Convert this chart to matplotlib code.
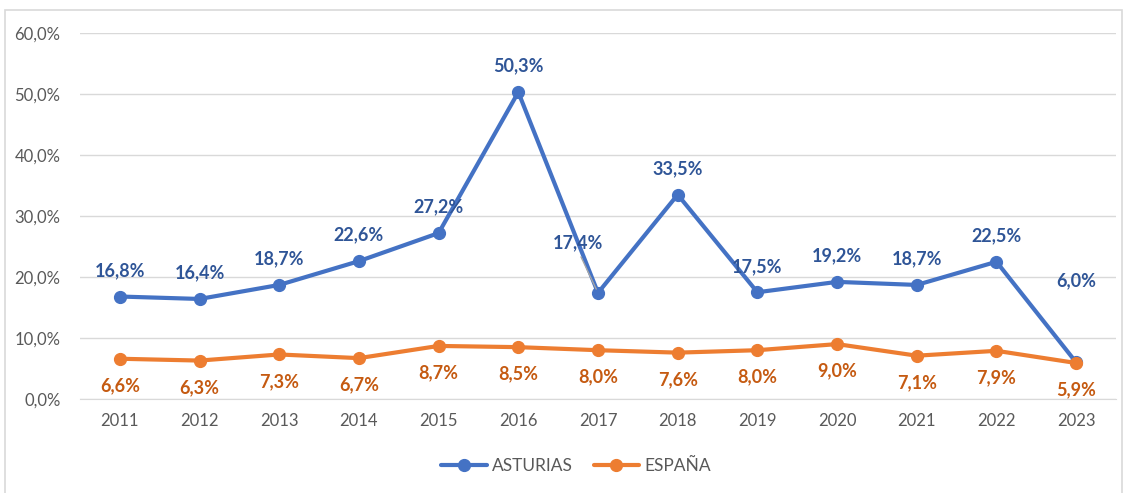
import matplotlib
matplotlib.use("Agg")
import matplotlib.pyplot as plt
from matplotlib.patches import Rectangle

# --- Datos ---
years = ["2011", "2012", "2013", "2014", "2015", "2016", "2017",
         "2018", "2019", "2020", "2021", "2022", "2023"]
asturias = [16.8, 16.4, 18.7, 22.6, 27.2, 50.3, 17.4, 33.5, 17.5, 19.2, 18.7, 22.5, 6.0]
espana = [6.6, 6.3, 7.3, 6.7, 8.7, 8.5, 8.0, 7.6, 8.0, 9.0, 7.1, 7.9, 5.9]
yticks = [0, 10, 20, 30, 40, 50, 60]

C_AST = "#4472C4"
C_ESP = "#ED7D31"
C_AST_TXT = "#2F5597"
C_ESP_TXT = "#C55A11"
C_TICK = "#595959"

plt.rcParams["font.family"] = ["Lato", "DejaVu Sans"]

fig = plt.figure(figsize=(11.29, 4.93), dpi=100)
# marco del gráfico
fig.patches.append(Rectangle((5 / 1129, -0.1), 1117 / 1129, 1.1 - 10 / 493,
                             transform=fig.transFigure, fill=False,
                             edgecolor="#D9D9D9", linewidth=1.2))

ax = fig.add_axes([80 / 1129, 1 - 399 / 493, 1036 / 1129, 366 / 493])
x = list(range(len(years)))

ax.plot(x, asturias, color=C_AST, lw=3, marker="o", ms=8.5, label="ASTURIAS",
        solid_capstyle="round", zorder=3)
ax.plot(x, espana, color=C_ESP, lw=3, marker="o", ms=8.5, label="ESPAÑA",
        solid_capstyle="round", zorder=3)

def fmt(v):
    return f"{v:.1f}%".replace(".", ",")

# etiquetas ASTURIAS (encima)
for i, v in enumerate(asturias):
    dx, dy = 0, 26
    if years[i] == "2017":
        dx, dy = -20, 50
    if years[i] == "2023":
        dx, dy = 0, 82
    ax.annotate(fmt(v), (i, v), xytext=(dx, dy), textcoords="offset pixels",
                ha="center", va="center", color=C_AST_TXT, fontsize=13,
                fontweight="bold", zorder=4)
# línea guía 2017
i17 = years.index("2017")
ax.annotate("", (i17, asturias[i17]), xytext=(-17, 36), textcoords="offset pixels",
            arrowprops=dict(arrowstyle="-", color="#A6A6A6", lw=1,
                            shrinkA=0, shrinkB=3))

# etiquetas ESPAÑA (debajo)
for i, v in enumerate(espana):
    ax.annotate(fmt(v), (i, v), xytext=(0, -27), textcoords="offset pixels",
                ha="center", va="center", color=C_ESP_TXT, fontsize=13,
                fontweight="bold", zorder=4)

ax.set_xlim(-0.5, len(years) - 0.5)
ax.set_ylim(0, 60)
ax.set_xticks(x)
ax.set_xticklabels(years)
ax.set_yticks(yticks)
ax.set_yticklabels([f"{t:.1f}%".replace(".", ",") for t in yticks])
ax.tick_params(length=0, colors=C_TICK, labelsize=12, pad=10)
ax.tick_params(axis="y", pad=14)
ax.grid(axis="y", color="#D9D9D9", lw=1)
ax.set_axisbelow(True)
for s in ["top", "right", "left"]:
    ax.spines[s].set_visible(False)
ax.spines["bottom"].set_color("#D9D9D9")

leg = fig.legend(loc="center", bbox_to_anchor=(576 / 1129, 1 - 466 / 493), ncol=2,
                 frameon=False, fontsize=12.5, handlelength=2.6,
                 columnspacing=1.2, handletextpad=0.3)
for t in leg.get_texts():
    t.set_color(C_TICK)

fig.savefig("out.png", dpi=100)
